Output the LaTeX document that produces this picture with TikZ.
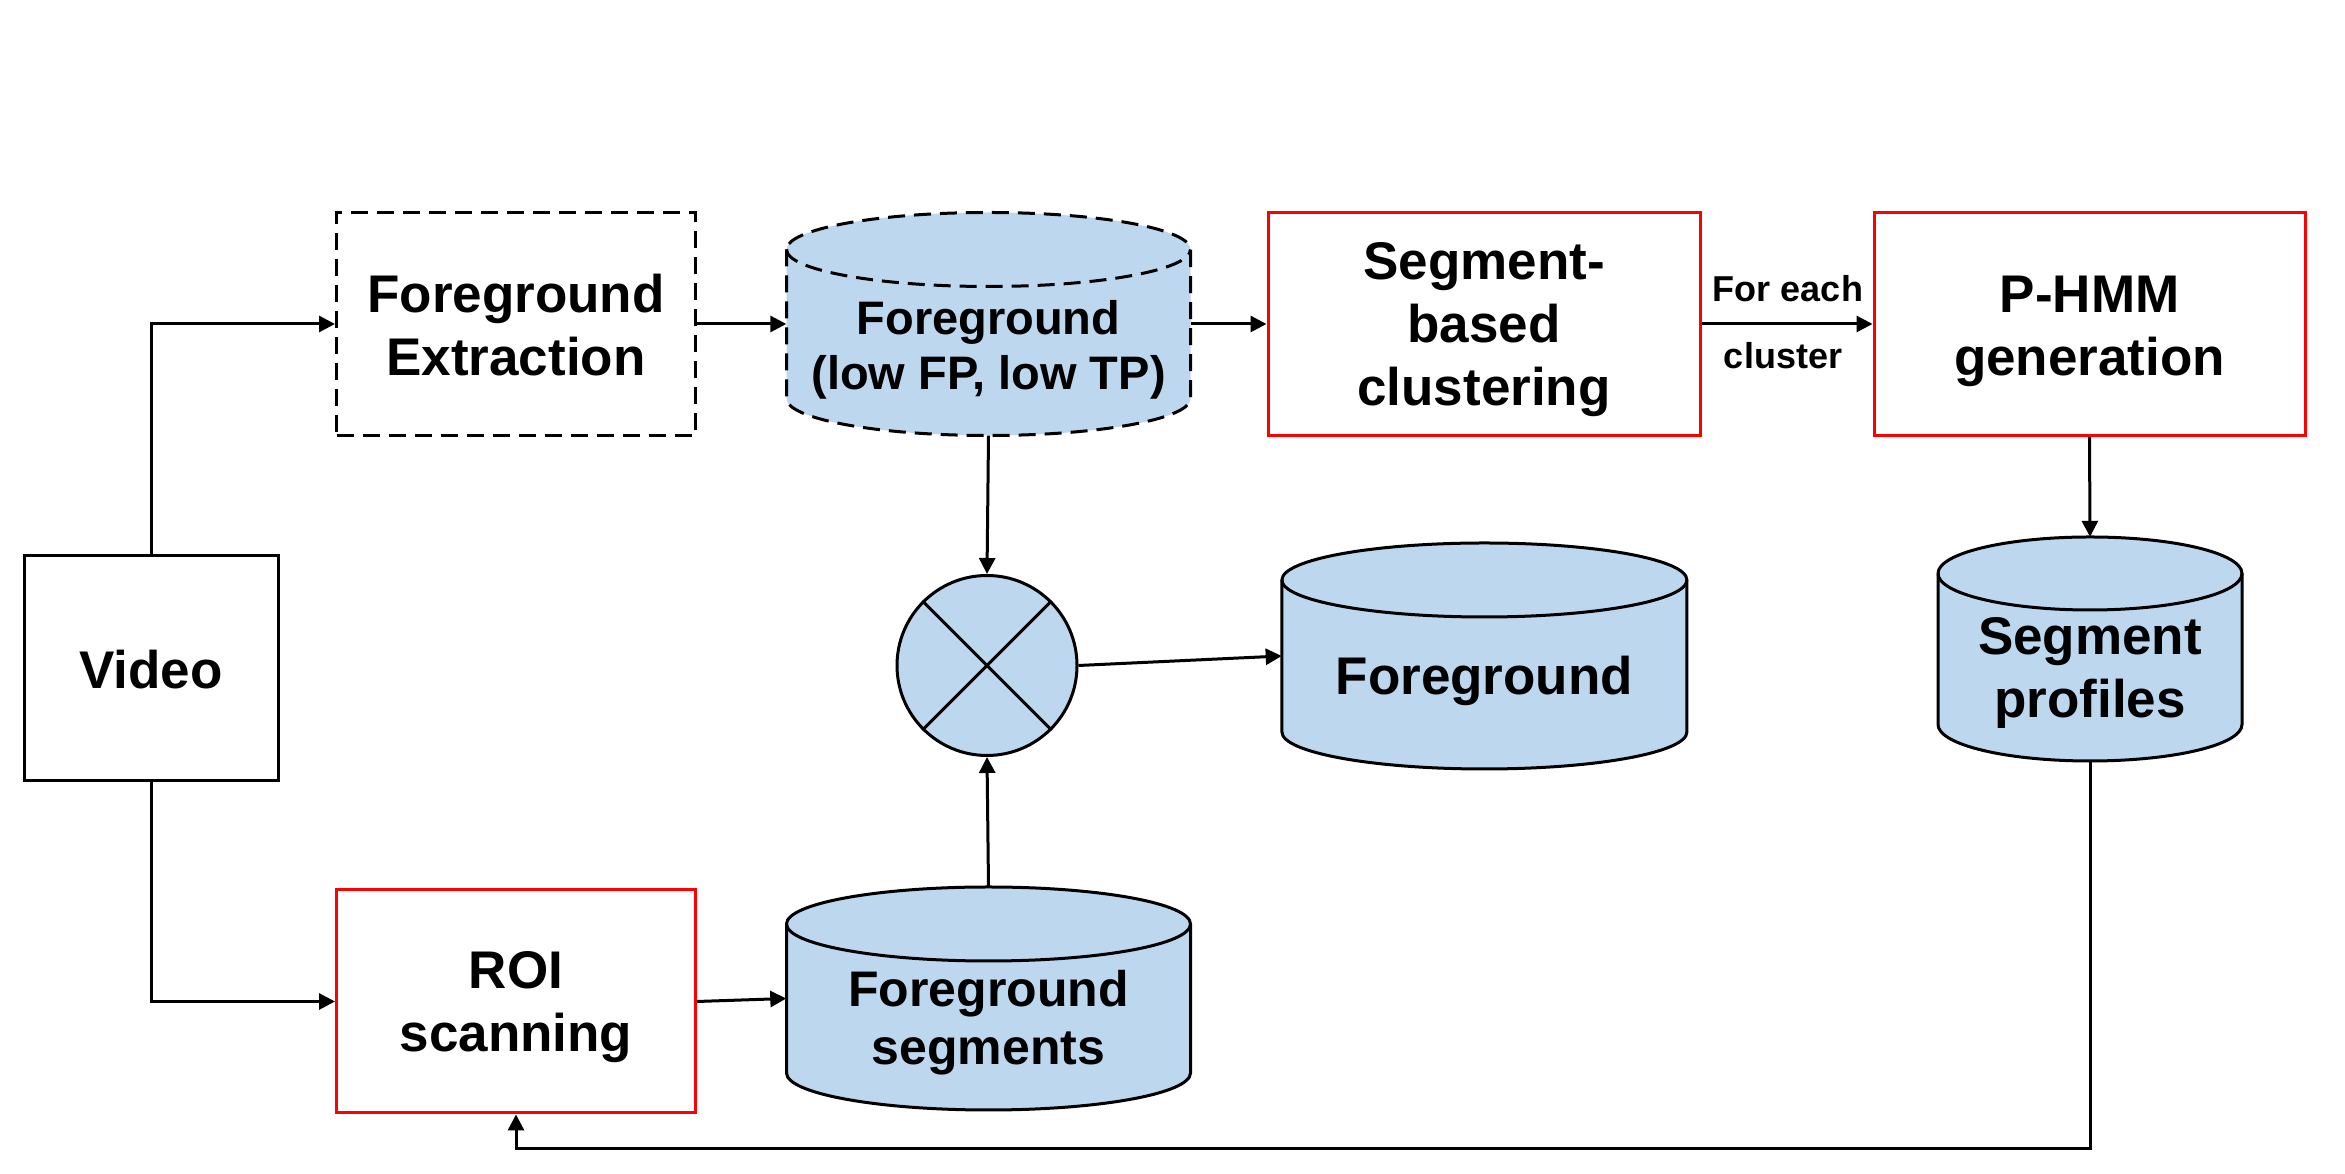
\documentclass[tikz,border=0pt]{standalone}
\usepackage{fontspec}
\setmainfont{Liberation Sans}
\usetikzlibrary{arrows.meta}
\definecolor{cylblue}{HTML}{BDD7EE}
\newcommand\lblfont{\fontsize{53}{63}\selectfont\bfseries}
\newcommand\midlblfont{\fontsize{47}{55}\selectfont\bfseries}
\newcommand\segfont{\fontsize{50}{58}\selectfont\bfseries}
\newcommand\smalllblfont{\fontsize{36}{44}\selectfont\bfseries}
% name, cx, cy, w, h, ry, extra draw options, text, text font, text offset
\newcommand\dbcyl[9]{%
  \path[fill=cylblue, draw=black, line width=3pt, #7]
    (#2-#4/2, #3+#5/2-#6) -- (#2-#4/2, #3-#5/2+#6)
    arc[start angle=180, end angle=360, x radius=#4/2, y radius=#6]
    -- (#2+#4/2, #3+#5/2-#6)
    arc[start angle=0, end angle=180, x radius=#4/2, y radius=#6] -- cycle;
  \draw[line width=3pt, #7] (#2-#4/2, #3+#5/2-#6)
    arc[start angle=180, end angle=360, x radius=#4/2, y radius=#6];
  \node[inner sep=0pt, minimum width=#4pt, minimum height=#5pt] (#1) at (#2,#3) {};
  \node[inner sep=0pt, align=center, font=#9] (#1text) at (#2,#3+\cyltextoff) {#8};
}
\newcommand\cyltextoff{-25}
% name, style, x, y, w, h, text offset, text
\newcommand\tbox[8]{%
  \node[#2, minimum width=#5pt, minimum height=#6pt] (#1) at (#3,#4) {};
  \node[inner sep=0pt, align=center, font=\lblfont] (#1text) at (#3,#4+#7) {#8};
}
\tikzset{
  box/.style={draw=black, line width=3pt, fill=white, inner sep=0pt},
  redbox/.style={box, draw=red},
  dashbox/.style={box, dash pattern=on 17pt off 9pt},
  conn/.style={line width=3pt, -{Triangle[length=16pt,width=16pt]}},
  lbl/.style={inner sep=0pt, align=center, font=\smalllblfont}
}
\begin{document}
\begin{tikzpicture}[x=1pt,y=1pt]
\fill[white] (0,0) rectangle (2345,1174);
\useasboundingbox (0,0) rectangle (2345,1174);

\tbox{video}{box}{151}{505.5}{254}{225}{-1}{Video}
\tbox{fe}{dashbox}{516}{850}{359}{223}{-1.2}{Foreground\\Extraction}
\renewcommand\cyltextoff{-25.6}
\dbcyl{fgtop}{988.5}{850}{404}{223}{37}{dash pattern=on 17pt off 9pt}{Foreground\\(low FP, low TP)}{\midlblfont}
\tbox{sbc}{redbox}{1484}{850}{432}{223}{-5.9}{Segment-\\based\\clustering}
\tbox{phmm}{redbox}{2089.5}{850}{431}{223}{-7.5}{P-HMM\\generation}
\renewcommand\cyltextoff{-23.7}
\dbcyl{segp}{2090}{525}{304}{224}{36.5}{}{Segment\\profiles}{\lblfont}
\node[circle, draw=black, fill=cylblue, line width=3pt, minimum size=180pt, inner sep=0pt] (mix) at (987,508.5) {};
\draw[line width=3pt] (mix.45) -- (mix.225) (mix.135) -- (mix.315);
\renewcommand\cyltextoff{-25.2}
\dbcyl{fgmid}{1484.4}{518}{405}{226}{37}{}{Foreground}{\lblfont}
\tbox{roi}{redbox}{516}{172.5}{359}{223}{-6}{ROI\\scanning}
\renewcommand\cyltextoff{-24.5}
\dbcyl{fgseg}{988.5}{175.5}{404}{223}{37}{}{Foreground\\segments}{\segfont}

\node[lbl] (foreach) at (1788,885) {For each};
\node[lbl] (cluster) at (1783,818) {cluster};

\coordinate (fb) at (2090,25.5);

\draw[conn] (video.north) |- (fe.west);
\draw[conn] (video.south) |- (roi.west);
\draw[conn] (fe.east) -- (fgtop.west);
\draw[conn] (fgtop.east) -- (sbc.west);
\draw[conn] (sbc.east) -- (phmm.west);
\draw[conn] (phmm.south) -- (segp.north);
\draw[conn] (fgtop.south) -- (mix.north);
\draw[conn] (fgseg.north) -- (mix.south);
\draw[conn] (mix.east) -- (fgmid.west);
\draw[conn] (roi.east) -- (fgseg.west);
\draw[conn] (segp.south) -- (fb) -| (roi.south);
\end{tikzpicture}
\end{document}
